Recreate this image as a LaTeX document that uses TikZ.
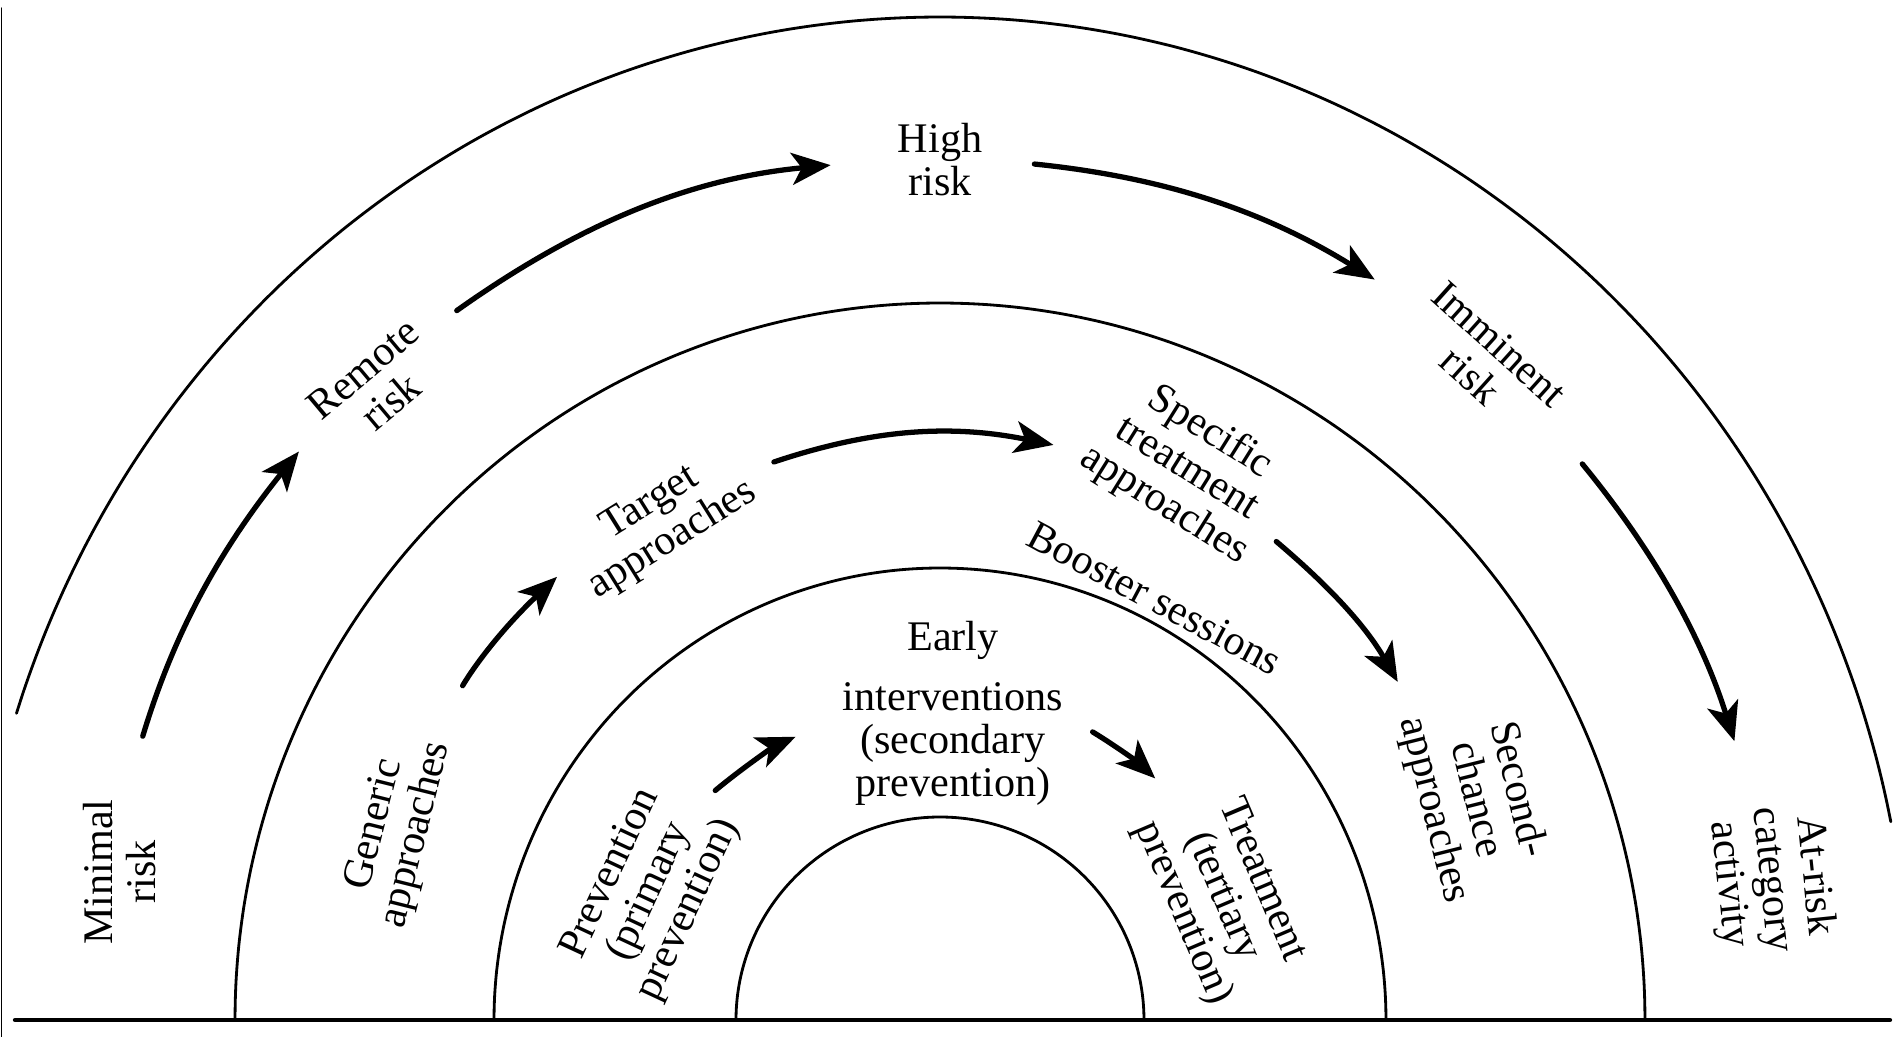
\documentclass[tikz,border=0pt]{standalone}
\usepackage{fontspec}
\setmainfont{Liberation Serif}
\usetikzlibrary{arrows.meta}
\begin{document}
\begin{tikzpicture}[>={Stealth[length=3.9mm,width=3.2mm,inset=1mm]}, line join=round, line cap=round,
	lbl/.style={align=center, inner sep=.3333em, font=\fontsize{12}{12.2}\selectfont},
	ring/.style={line width=.8pt},
	arr/.style={->, line width=1.5pt}]
	\def\ra{9.70} \def\ha{10.03} % vòng ngoài
	\def\rb{7.05} \def\hb{7.17}
	\def\rc{4.46} \def\hc{4.52}
	\def\rd{2.04} \def\hd{2.03}
	\useasboundingbox (-9.40,-0.17) rectangle (9.60,10.20);
	\draw[line width=.4pt] (-9.385,-0.17)--(-9.385,10.12);
	\draw[line width=1.2pt] (-9.25,0)--(9.50,0);
	\draw[ring,smooth,samples=120,domain=11.4:162.2] plot({\ra*cos(\x)},{\ha*sin(\x)});
	\draw[ring,smooth,samples=120,domain=0:180] plot({\rb*cos(\x)},{\hb*sin(\x)});
	\draw[ring,smooth,samples=120,domain=0:180] plot({\rc*cos(\x)},{\hc*sin(\x)});
	\draw[ring,smooth,samples=120,domain=0:180] plot({\rd*cos(\x)},{\hd*sin(\x)});
	% vòng ngoài
	\node[lbl,rotate=90] (minimal) at (-8.20,1.48) {Minimal\\risk};
	\node[lbl,rotate=40] (remote) at (-5.63,6.35) {Remote\\risk};
	\node[lbl] (high) at (0,8.60) {High\\risk};
	\node[lbl,rotate=-42] (imminent) at (5.45,6.60) {Imminent\\risk};
	\node[lbl,rotate=-84] (atrisk) at (8.31,1.40) {At-risk\\category\\activity};
	% vòng giữa
	\node[lbl,rotate=76] (generic) at (-5.44,1.90) {Generic\\approaches};
	\node[lbl,rotate=32] (target) at (-2.78,4.98) {Target\\approaches};
	\node[lbl,rotate=-32] (specific) at (2.47,5.51) {Specific\\treatment\\approaches};
	\node[lbl,rotate=-28] (booster) at (2.15,4.22) {Booster sessions};
	\node[lbl,rotate=-76] (second) at (5.35,2.20) {Second-\\chance\\approaches};
	% vòng trong
	\node[lbl,rotate=65] (prevention) at (-2.90,1.28) {Prevention\\(primary\\prevention)};
	\node[lbl] (early) at (0.13,3.07) {Early\\[5pt]interventions\\(secondary\\prevention)};
	\node[lbl,rotate=-67] (treatment) at (2.82,1.23) {Treatment\\(tertiary\\prevention)};
	% mũi tên
	\draw[arr,shorten <=5.3mm,shorten >=2.5mm] (minimal.-5) to[bend left=11] (remote.177);
	\draw[arr,shorten <=3.1mm,shorten >=5.5mm] (remote.6) to[bend left=15] (high.west);
	\draw[arr,shorten <=4mm,shorten >=4.2mm] (high.east) to[bend left=13] (imminent.184);
	\draw[arr,shorten <=4.8mm,shorten >=5.8mm] (imminent.-3) to[bend left=11] (atrisk.187);
	\draw[arr,shorten <=5.1mm,shorten >=1.1mm] (generic.-8) to[bend left=8] (target.174);
	\draw[arr,shorten <=2mm,shorten >=2mm] (target.-2) to[bend left=15] (specific.202);
	\draw[arr,shorten <=.7mm,shorten >=2.7mm] (specific.-7) to[bend left=10] (second.200);
	\draw[arr,shorten <=1.1mm,shorten >=3.8mm] (prevention.-6) to[bend left=8] (early.184);
	\draw[arr,shorten <=2mm,shorten >=2.8mm] (early.-4) to[bend left=6] (treatment.182);
\end{tikzpicture}
\end{document}
